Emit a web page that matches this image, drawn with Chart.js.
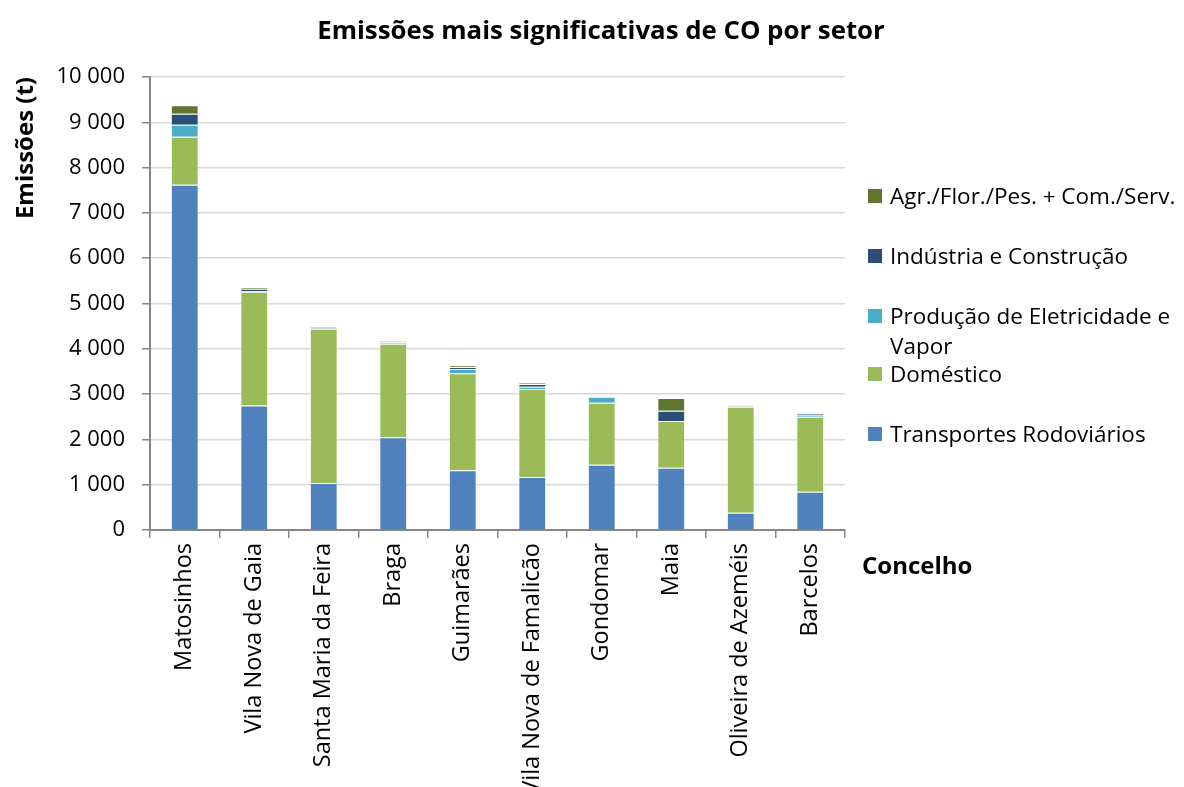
<!DOCTYPE html>
<html>
<head>
<meta charset="utf-8">
<script src="https://cdn.jsdelivr.net/npm/chart.js@4"></script>
<style>
  html, body { margin: 0; padding: 0; background: #fff; overflow: hidden; }
  #wrap { position: relative; width: 1184px; height: 787px; overflow: hidden; }
  #title { position: absolute; left: 0; width: 1202px; top: 12px; text-align: center; font-family: 'Open Sans', sans-serif; font-weight: bold; font-size: 25.8px; line-height: 34px; color: #000; }
  #legend { position: absolute; left: 0; top: 0; font-family: 'Open Sans', sans-serif; font-size: 22.5px; color: #000; }
  .item { position: absolute; left: 868px; width: 310px; line-height: 30px; padding-left: 22px; }
  .item span.box { position: absolute; left: 0; top: 8px; width: 14px; height: 14px; }
  #xtitle { position: absolute; left: 862px; top: 548px; font-family: 'Open Sans', sans-serif; font-weight: bold; font-size: 24px; }
</style>
</head>
<body>
<div id="wrap">
  <canvas id="co" width="1184" height="787"></canvas>
  <div id="title">Emissões mais significativas de CO por setor</div>
  <div id="legend"></div>
  <div id="xtitle">Concelho</div>
</div>
<script>
const concelhos = ['Matosinhos', 'Vila Nova de Gaia', 'Santa Maria da Feira', 'Braga', 'Guimarães',
  'Vila Nova de Famalicão', 'Gondomar', 'Maia', 'Oliveira de Azeméis', 'Barcelos'];

const transportes = [7620, 2750, 1040, 2050, 1320, 1170, 1440, 1375, 380, 845];
const domestico = [1060, 2510, 3400, 2060, 2140, 1945, 1370, 1030, 2340, 1655];
const producao = [265, 15, 10, 5, 95, 50, 130, 0, 10, 30];
const industria = [245, 50, 25, 30, 45, 60, 5, 230, 20, 40];
const agricultura = [185, 30, 15, 20, 30, 20, 5, 280, 10, 15];

const yTicks = [0, 1000, 2000, 3000, 4000, 5000, 6000, 7000, 8000, 9000, 10000];

const fmt = v => String(v).replace(/\B(?=(\d{3})+(?!\d))/g, ' ');

const datasets = [
  { label: 'Transportes Rodoviários', data: transportes, backgroundColor: '#4F81BD' },
  { label: 'Doméstico', data: domestico, backgroundColor: '#9BBB59' },
  { label: 'Produção de Eletricidade e Vapor', data: producao, backgroundColor: '#4BACC6' },
  { label: 'Indústria e Construção', data: industria, backgroundColor: '#2C4D75' },
  { label: 'Agr./Flor./Pes. + Com./Serv.', data: agricultura, backgroundColor: '#5F7530' }
];
datasets.forEach(ds => {
  ds.borderColor = 'rgba(255,255,255,0.45)';
  ds.borderWidth = 1;
  ds.barPercentage = 0.4;
  ds.categoryPercentage = 1.0;
});

Chart.defaults.font.family = 'Open Sans';
Chart.defaults.color = '#000';

const config = {
  type: 'bar',
  data: { labels: concelhos, datasets: datasets },
  options: {
    responsive: false,
    animation: false,
    layout: { padding: { left: 0, right: 339, top: 77, bottom: 0 } },
    plugins: {
      legend: { display: false },
      tooltip: { enabled: false }
    },
    scales: {
      x: {
        stacked: true,
        grid: { display: true, drawOnChartArea: false, offset: true, color: '#868686', tickLength: 8, lineWidth: 1.5 },
        border: { color: '#868686', width: 2 },
        ticks: { autoSkip: false, minRotation: 90, maxRotation: 90, padding: 5, font: { size: 23.5 } },
        afterFit: s => { s.height = 257; }
      },
      y: {
        stacked: true,
        min: 0,
        max: 10000,
        afterBuildTicks: s => { s.ticks = yTicks.map(v => ({ value: v })); },
        grid: { color: '#d9d9d9', lineWidth: 1.5, tickLength: 8, tickColor: '#868686' },
        border: { color: '#868686', width: 2 },
        ticks: { padding: 17, font: { size: 22 }, callback: v => fmt(v) },
        title: { display: true, text: 'Emissões (t)', align: 'end', font: { size: 24, weight: 'bold' }, padding: { top: 12, bottom: 0 } },
        afterFit: s => { s.width = 150; }
      }
    }
  }
};

const chart = new Chart(document.getElementById('co'), config);

// legend, top entry = last stacked series
const legendTops = [181, 241, 301, 359, 419];
const legendEl = document.getElementById('legend');
datasets.slice().reverse().forEach((ds, i) => {
  const div = document.createElement('div');
  div.className = 'item';
  div.style.top = legendTops[i] + 'px';
  const box = document.createElement('span');
  box.className = 'box';
  box.style.background = ds.backgroundColor;
  div.appendChild(box);
  div.appendChild(document.createTextNode(ds.label));
  legendEl.appendChild(div);
});
</script>
</body>
</html>
